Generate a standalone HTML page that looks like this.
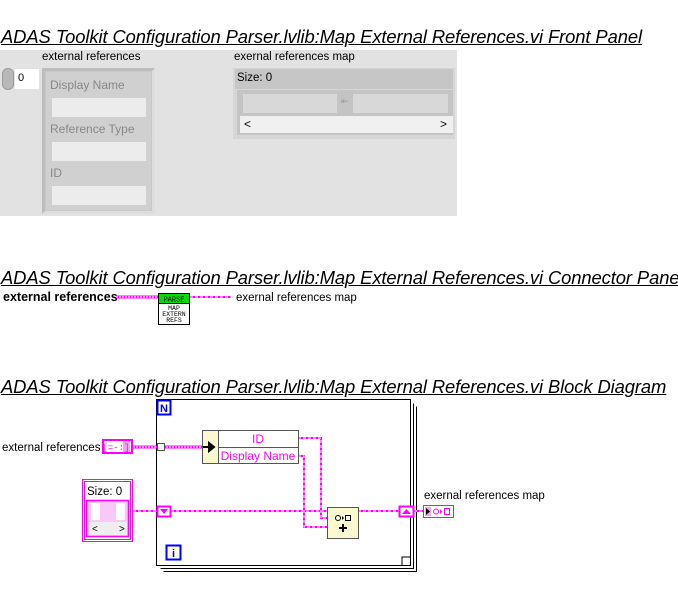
<!DOCTYPE html>
<html><head><style>
body{margin:0;width:678px;height:597px;background:#fff;position:relative;overflow:hidden;font-family:"Liberation Sans",sans-serif}
.t{position:absolute;left:1px;font-size:18.4px;font-style:italic;text-decoration:underline;white-space:nowrap;letter-spacing:-0.1px}
.a{position:absolute}
.l{position:absolute;font-size:11.5px;white-space:nowrap}
</style></head><body>
<div class="t" style="top:26px">ADAS Toolkit Configuration Parser.lvlib:Map External References.vi Front Panel</div>
<div class="t" style="top:267px">ADAS Toolkit Configuration Parser.lvlib:Map External References.vi Connector Pane</div>
<div class="t" style="top:376px">ADAS Toolkit Configuration Parser.lvlib:Map External References.vi Block Diagram</div>

<div class="a" style="left:0;top:50px;width:457px;height:166px;background:#e2e2e2"></div>
<div class="l" style="left:42px;top:51px">external references</div>
<div class="a" style="left:2px;top:68px;width:12px;height:22px;border-radius:6px;background:#b8b8b8;border:1px solid #999;box-sizing:border-box"></div>
<div class="a" style="left:15px;top:69px;width:24px;height:20px;background:#fff;font-size:11px;padding:3px 0 0 3px;box-sizing:border-box">0</div>
<div class="a" style="left:42px;top:68px;width:113px;height:146px;background:#c8c8c8;border:3px solid #bdbdbd;border-right-color:#ddd;border-bottom-color:#ddd;box-sizing:border-box"></div>
<div class="a" style="left:46px;top:72px;width:105px;height:138px;background:#d0d0d0"></div>
<div class="l" style="left:50px;top:78px;font-size:12px;color:#888">Display Name</div>
<div class="a" style="left:52px;top:98px;width:94px;height:19px;background:#ececec"></div>
<div class="l" style="left:50px;top:122px;font-size:12px;color:#888">Reference Type</div>
<div class="a" style="left:52px;top:142px;width:94px;height:19px;background:#ececec"></div>
<div class="l" style="left:50px;top:166px;font-size:12px;color:#888">ID</div>
<div class="a" style="left:52px;top:186px;width:94px;height:19px;background:#ececec"></div>

<div class="l" style="left:234px;top:51px">exernal references map</div>
<div class="a" style="left:233px;top:68px;width:222px;height:71px;background:#d6d6d6"></div>
<div class="a" style="left:235px;top:69px;width:218px;height:20px;background:#c6c6c6;font-size:11.5px;padding:3px 0 0 2px;box-sizing:border-box">Size: 0</div>
<div class="a" style="left:237px;top:90px;width:216px;height:45px;background:#c4c4c4"></div>
<div class="a" style="left:243px;top:94px;width:94px;height:19px;background:#d8d8d8"></div>
<div class="a" style="left:353px;top:94px;width:95px;height:19px;background:#d8d8d8"></div>
<div class="l" style="left:341px;top:96px;color:#999;font-size:9px">⇤</div>
<div class="a" style="left:240px;top:116px;width:213px;height:17px;background:#f0f0f0;font-size:12px;line-height:17px"><span style="position:absolute;left:4px">&lt;</span><span style="position:absolute;right:6px">&gt;</span></div>

<div class="l" style="left:3px;top:290px;font-weight:bold;font-size:12.5px">external references</div>
<svg class="a" style="left:0;top:0" width="678" height="597">
<g fill="none">
<line x1="116" y1="297" x2="158" y2="297" stroke="#f0f" stroke-width="3"/>
<line x1="116" y1="297" x2="158" y2="297" stroke="#fff" stroke-width="1" stroke-dasharray="2,1"/>
<line x1="190" y1="297" x2="231" y2="297" stroke="#f0f" stroke-width="2"/>
<line x1="190" y1="297" x2="231" y2="297" stroke="#fff" stroke-width="1" stroke-dasharray="3,2"/>
</g>
<rect x="158.5" y="293.5" width="31" height="31" fill="#fff" stroke="#000"/>
<rect x="159" y="294" width="30" height="9" fill="#00e000"/>
<line x1="158" y1="303.5" x2="190" y2="303.5" stroke="#000"/>
<text x="174" y="301.5" font-size="7" text-anchor="middle" font-family="Liberation Mono" fill="#000">PARSE</text>
<text x="174" y="310" font-size="6.5" text-anchor="middle" font-family="Liberation Mono">MAP</text>
<text x="174" y="316" font-size="6.5" text-anchor="middle" font-family="Liberation Mono">EXTERN</text>
<text x="174" y="322" font-size="6.5" text-anchor="middle" font-family="Liberation Mono">REFS</text>
<text x="236" y="301" font-size="11.5" font-family="Liberation Sans">exernal references map</text>

<g fill="none" stroke="#000">
<path d="M163.5 571.5 H416.5 V406.5"/>
<path d="M160.5 568.5 H413.5 V403.5"/>
<rect x="156.5" y="399.5" width="254" height="166" fill="#fff"/>
<path d="M402 565 V557 H410"/>
</g>
<rect x="157.5" y="400.5" width="13" height="14" fill="#fff" stroke="#00f" stroke-width="2"/>
<text x="164" y="412" font-size="11" text-anchor="middle" font-weight="bold" fill="#00f">N</text>
<rect x="166.5" y="545.5" width="14" height="14" fill="#ffffe0" stroke="#00f" stroke-width="2"/>
<text x="173.5" y="557" font-size="11" text-anchor="middle" font-weight="bold" fill="#00f">i</text>

<g fill="none" stroke="#f0f">
<path d="M133 447 H202" stroke-width="3"/>
<path d="M133 447 H202" stroke="#fff" stroke-width="1" stroke-dasharray="2,1"/>
<path d="M133 511 H157 M171 511 H327 M358 511 H399 M414 511 H423" stroke-width="2"/>
<path d="M133 511 H157 M171 511 H327 M358 511 H399 M414 511 H423" stroke="#fff" stroke-width="1" stroke-dasharray="3,2"/>
<path d="M298 438 H321 V518 H327" stroke-width="2"/>
<path d="M298 438 H321 V518 H327" stroke="#fff" stroke-width="1" stroke-dasharray="3,2"/>
<path d="M298 456 H304 V527 H327" stroke-width="2"/>
<path d="M298 456 H304 V527 H327" stroke="#fff" stroke-width="1" stroke-dasharray="3,2"/>
</g>
<text x="2" y="451" font-size="11.5">external references</text>
<rect x="103" y="440" width="29" height="13" fill="#fff" stroke="#f0f" stroke-width="2"/>
<rect x="123" y="441" width="7" height="11" fill="#f8a0f8"/>
<text x="116" y="450" font-size="9" text-anchor="middle" fill="#f0f" font-family="Liberation Mono">[=-:]</text>
<rect x="157.5" y="443.5" width="7" height="7" fill="#fff" stroke="#555"/>
<rect x="202.5" y="430.5" width="96" height="33" fill="#fff" stroke="#555"/>
<rect x="203" y="431" width="15" height="32" fill="#fcf8d0"/>
<line x1="218.5" y1="430" x2="218.5" y2="464" stroke="#555"/>
<line x1="218" y1="447.5" x2="298" y2="447.5" stroke="#555"/>
<path d="M203 447 H211 M209 443 L214 447 L209 451Z" stroke="#000" stroke-width="2" fill="#000"/>
<text x="258" y="443" font-size="12" text-anchor="middle" fill="#f0f">ID</text>
<text x="258" y="460" font-size="12" text-anchor="middle" fill="#f0f">Display Name</text>

<rect x="82.5" y="479.5" width="50" height="62" fill="#fff" stroke="#f0f" stroke-width="1"/>
<rect x="84.5" y="481.5" width="46" height="58" fill="none" stroke="#f0f"/>
<text x="87" y="495" font-size="11.5">Size: 0</text>
<rect x="86.5" y="500.5" width="42" height="36" fill="#f8c8f8" stroke="#f0f" stroke-width="1.5"/>
<rect x="91" y="503" width="9" height="17" fill="#fff"/>
<rect x="116" y="503" width="9" height="17" fill="#fff"/>
<rect x="89" y="522" width="38" height="13" fill="#eee"/>
<text x="92" y="532" font-size="10">&lt;</text><text x="119" y="532" font-size="10">&gt;</text>
<rect x="157.5" y="506.5" width="13" height="10" fill="#fff" stroke="#f0f" stroke-width="2"/>
<path d="M160 509 H168 L164 514Z" fill="#f0f"/>
<rect x="399.5" y="506.5" width="14" height="10" fill="#fff" stroke="#f0f" stroke-width="2"/>
<path d="M402 514 H411 L406.5 509Z" fill="#f0f"/>
<rect x="327.5" y="507.5" width="31" height="31" fill="#fcf8d0" stroke="#555"/>
<circle cx="338" cy="518" r="2.5" fill="none" stroke="#000"/>
<path d="M342 516 L344 518 L342 520Z" fill="#000"/>
<rect x="345.5" y="515.5" width="5" height="5" fill="none" stroke="#000"/>
<path d="M343 524 V532 M339 528 H347" stroke="#000" stroke-width="2"/>
<text x="424" y="499" font-size="11.5">exernal references map</text>
<rect x="423.5" y="505.5" width="30" height="12" fill="#fff" stroke="#f0f" stroke-width="1"/>
<rect x="425" y="507" width="6" height="9" fill="#f8a0f8"/>
<path d="M426 508 L430 511.5 L426 515Z" fill="#000"/>
<circle cx="436" cy="511.5" r="2.5" fill="none" stroke="#f0f"/>
<path d="M440 509 L442 511.5 L440 514Z" fill="#f0f"/>
<rect x="444.5" y="508.5" width="5" height="6" fill="none" stroke="#f0f"/>
</svg>
</body></html>
